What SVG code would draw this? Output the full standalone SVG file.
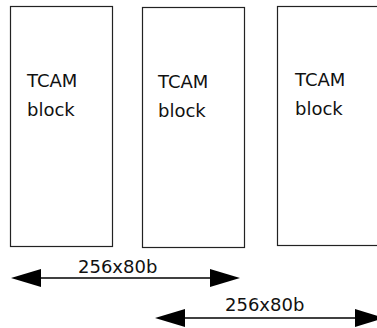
<svg xmlns="http://www.w3.org/2000/svg" width="377" height="328" viewBox="0 0 377 328">
<defs>
<style>
.box{fill:#fff;stroke:#222;stroke-width:1.2}
.t{font-family:"DejaVu Sans",Verdana,sans-serif;font-size:18px;fill:#111}
.c{stroke:#000;stroke-width:1.3;fill:none}
.h{fill:#000}
</style>
</defs>
<rect width="377" height="328" fill="#fff"/>
<g id="block1">
<rect class="box" x="10.5" y="6.5" width="102" height="240"/>
<text class="t" x="27" y="87">TCAM</text>
<text class="t" x="27" y="116">block</text>
</g>
<g id="block2">
<rect class="box" x="142.5" y="7.5" width="102" height="240"/>
<text class="t" x="158" y="88">TCAM</text>
<text class="t" x="158" y="117">block</text>
</g>
<g id="block3">
<rect class="box" x="277.5" y="6.5" width="110" height="239"/>
<text class="t" x="295" y="86">TCAM</text>
<text class="t" x="295" y="115">block</text>
</g>
<g id="connectors">
<line class="c" x1="40" y1="278" x2="211" y2="278"/>
<polygon class="h" points="11,278 41,269 41,287"/>
<polygon class="h" points="240,278 210,269 210,287"/>
<text class="t" x="78" y="273">256x80b</text>
<line class="c" x1="185" y1="318" x2="356" y2="318"/>
<polygon class="h" points="155,318 185,309 185,327"/>
<polygon class="h" points="384,318 355,309 355,327"/>
<text class="t" x="225" y="311">256x80b</text>
</g>
</svg>
